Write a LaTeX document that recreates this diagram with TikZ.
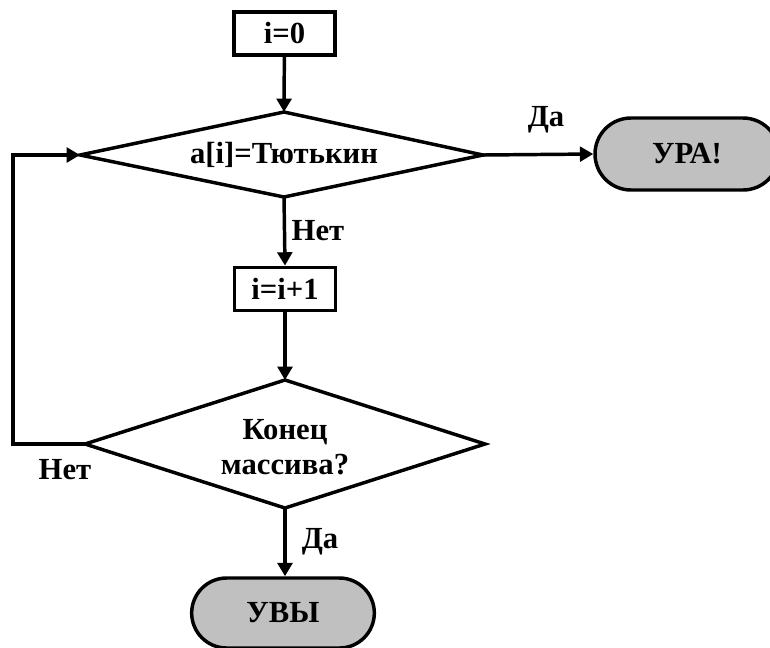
\documentclass[tikz,border=0pt]{standalone}
\usepackage{fontspec}
\setmainfont{Liberation Serif}
\usetikzlibrary{shapes.misc,arrows.meta}
\begin{document}
\begin{tikzpicture}[x=0.75pt,y=-0.75pt,
  every node/.style={font=\fontsize{23}{26}\selectfont\bfseries},
  outline/.style={draw=black,line width=2.6pt},
  procbox/.style={outline,rectangle,inner sep=0pt,minimum width=76pt,minimum height=32.5pt},
  question/.style={inner sep=0pt,align=center},
  terminal/.style={outline,rounded rectangle,fill={rgb,255:red,192;green,192;blue,192},inner sep=0pt},
  flow/.style={line width=2.6pt,-{Triangle[length=10pt,width=11pt]}},
  lbl/.style={inner sep=0pt}]
\useasboundingbox (0,0) rectangle (770,647);

% process boxes and terminals
\node[procbox] (init) at (284.5,33.5) {i=0};
\node[terminal,minimum width=138pt,minimum height=54pt] (ok) at (687,154) {УРА!};
\node[procbox] (inc) at (285,289) {i=i+1};
\node[terminal,minimum width=137pt,minimum height=52.5pt] (fail) at (283,613) {УВЫ};

% first decision: vertices and text
\coordinate (d1n) at (284,112);
\coordinate (d1e) at (483,155);
\coordinate (d1s) at (284,197);
\coordinate (d1w) at (80,155);
\draw[outline] (d1n) -- (d1e) -- (d1s) -- (d1w) -- cycle;
\node[question] (d1) at (284,155) {a[i]=Тютькин};

% second decision: vertices and text
\coordinate (d2n) at (285,380);
\coordinate (d2e) at (485,444);
\coordinate (d2s) at (285,508);
\coordinate (d2w) at (85,444);
\draw[outline] (d2n) -- (d2e) -- (d2s) -- (d2w) -- cycle;
\node[question] (d2) at (285,447) {Конец\\массива?};

\coordinate (loop) at (13,300);

% connectors
\draw[flow] (init) -- (d1n);
\draw[flow] (d1e) -- (ok.west);
\draw[flow] (d1s) -- (inc.north);
\draw[flow] (inc.south) -- (d2n);
\draw[flow] (d2s) -- (d2s |- fail.north);
\draw[flow] (d2w) -- (d2w -| loop) -- (d1w -| loop) -- (d1w);

% branch labels
\node[lbl] (yes1) at (546,120) {Да};
\node[lbl] (no1) at (318,231) {Нет};
\node[lbl] (no2) at (65,470) {Нет};
\node[lbl] (yes2) at (320,542) {Да};
\end{tikzpicture}
\end{document}
